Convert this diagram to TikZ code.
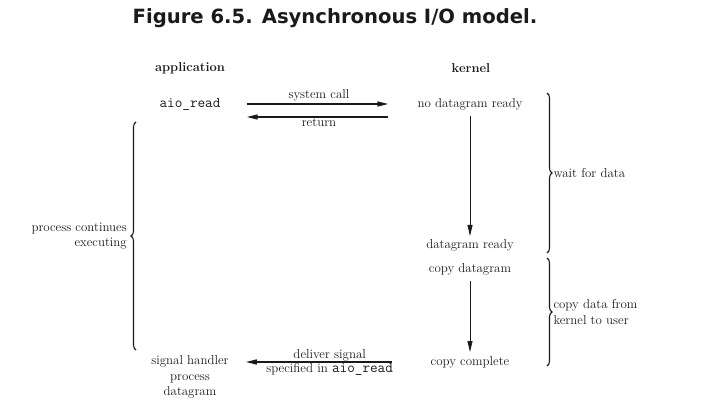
\documentclass[tikz,border=0pt]{standalone}
\usepackage{fontspec}
\usepackage{tikz}
\usetikzlibrary{arrows.meta,positioning,calc,decorations.pathreplacing}
\newfontfamily\titlefont{DejaVu Sans}
\definecolor{ink}{HTML}{1A1A1A}
\tikzset{
  lbl/.style  ={inner sep=2pt,align=center,text=ink,
                font=\fontsize{12.9}{15.5}\selectfont},
  head/.style ={lbl,font=\fontsize{12.9}{15.5}\selectfont\bfseries},
  code/.style ={inner sep=2pt,text=ink,font=\fontsize{14.8}{15}\selectfont\ttfamily},
  flow/.style ={-{Triangle[length=11pt,width=5pt]},line width=1.5pt,draw=ink},
  down/.style ={-{Triangle[length=11pt,width=5pt]},line width=0.8pt,draw=ink},
  brc/.style  ={decorate,decoration={brace,amplitude=5pt},line width=1.1pt,draw=ink}
}
\newcommand{\cd}[1]{{\fontsize{14.8}{15}\selectfont\ttfamily #1}}
\begin{document}
\begin{tikzpicture}[x=1pt,y=-1pt]
  \useasboundingbox (0,0) rectangle (709,419);
  \node[inner sep=0pt,text=ink,font=\titlefont\bfseries\fontsize{19.6}{22}\selectfont]
    (title) at (335,18) {Figure 6.5. Asynchronous I/O model.};
  % column heads
  \node[head] (app) at (190,68) {application};
  \node[head] (kern) at (471,68) {kernel};
  % application side
  \node[code] (aio) at (190,104) {aio\_read};
  \node[lbl] (handler) at (190,377) {signal handler\\process\\datagram};
  \node[lbl,align=right,anchor=east] (cont) at (129,236) {process continues\\executing};
  % kernel side
  \node[lbl] (nodat) at (470,104) {no datagram ready};
  \node[lbl] (dready) at (470,245) {datagram ready};
  \node[lbl] (copydg) at (470,269) {copy datagram};
  \node[lbl] (copydone) at (470,362) {copy complete};
  % calls between the two
  \draw[flow,shorten <=24pt,shorten >=27pt] (aio.east) -- (aio.east -| nodat.west)
    node[lbl,midway,above=0pt] (sc) {system call};
  \draw[flow,shorten <=27pt,shorten >=24pt] ([yshift=-13pt]aio.east -| nodat.west) -- ([yshift=-13pt]aio.east)
    node[lbl,midway,below=-1pt] (ret) {return};
  \draw[flow,shorten <=37pt,shorten >=15pt] (copydone.west) -- (copydone.west -| handler.east)
    node[lbl,midway,above=-2pt] (dsig) {deliver signal}
    node[lbl,midway,below=-1pt] (spec) {specified in \cd{aio\_read}};
  \draw[down,shorten <=4pt,shorten >=1pt] (nodat) -- (dready);
  \draw[down,shorten <=4pt,shorten >=2pt] (copydg) -- (copydone);
  % braces
  \draw[brc] (136,350) -- (136,122);
  \draw[brc] (547,93) -- (547,253) node[lbl,midway,right=4pt] (wait) {wait for data};
  \draw[brc] (547,258) -- (547,366) node[lbl,midway,right=4pt,align=left] (copyud) {copy data from\\kernel to user};
\end{tikzpicture}
\end{document}
